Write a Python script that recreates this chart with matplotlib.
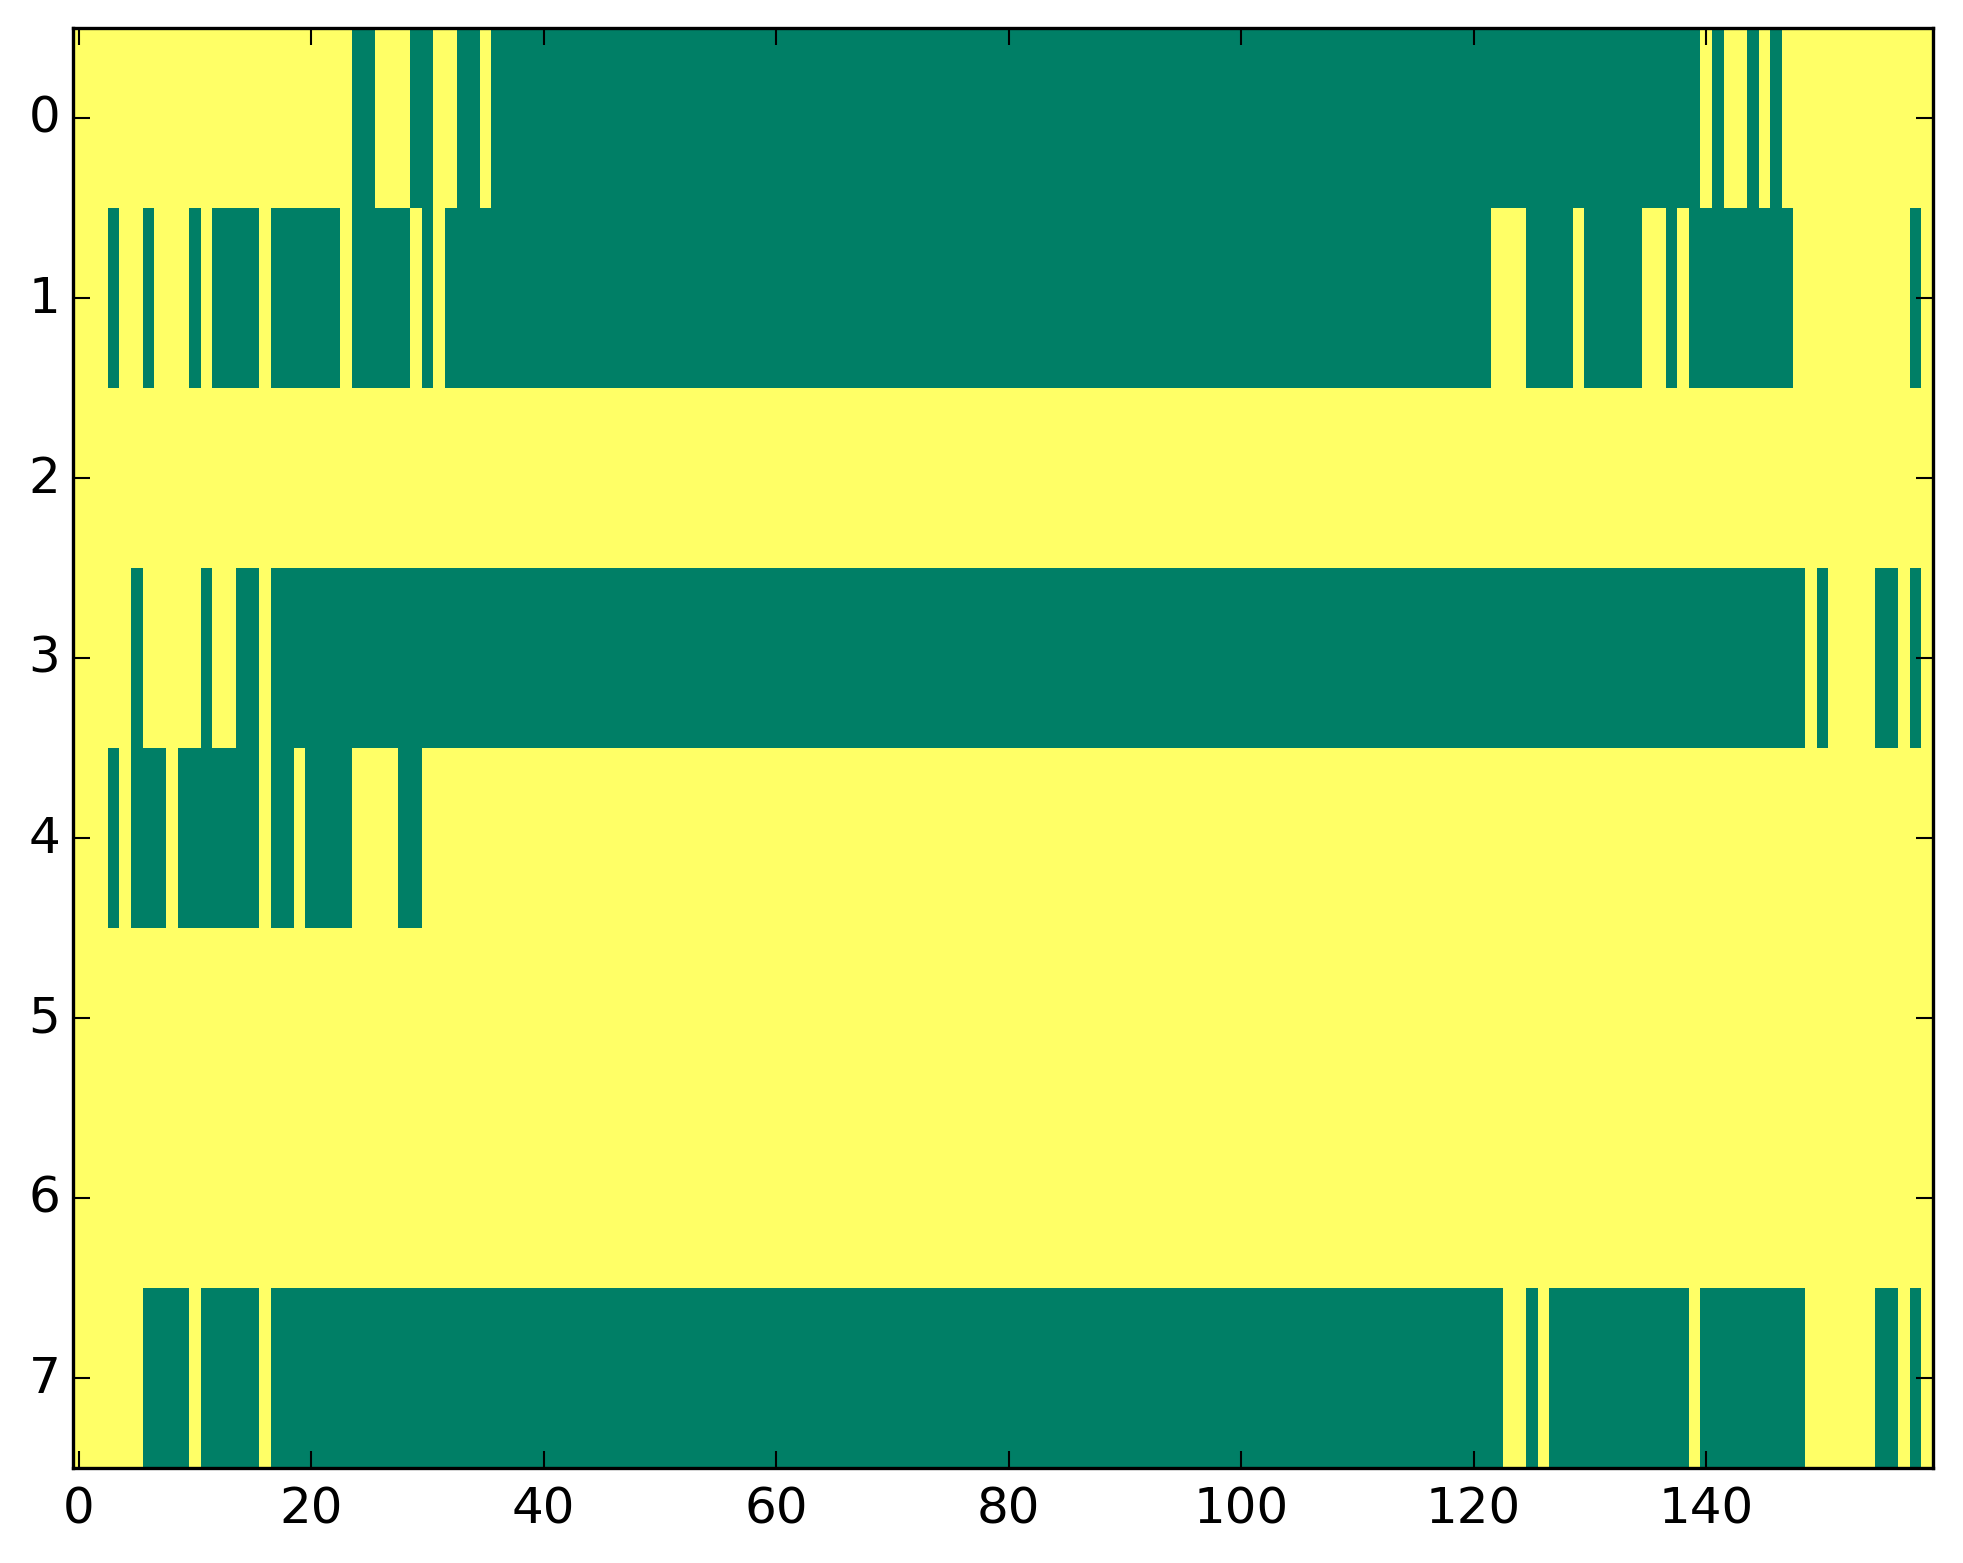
import numpy as np
import matplotlib
matplotlib.use('Agg')
import matplotlib.pyplot as plt

plt.style.use('classic')

n_rows = 8
n_cols = 160

# green (0) runs per row, inclusive column ranges; everything else is yellow (1)
row0_runs = [(24, 25), (29, 30), (33, 34), (36, 139), (141, 141), (144, 144), (146, 146)]
row1_runs = [(3, 3), (6, 6), (10, 10), (12, 15), (17, 22), (24, 28), (30, 30), (32, 121),
             (125, 128), (130, 134), (137, 137), (139, 147), (158, 158)]
row2_runs = []
row3_runs = [(5, 5), (11, 11), (14, 15), (17, 148), (150, 150), (155, 156), (158, 158)]
row4_runs = [(3, 3), (5, 7), (9, 15), (17, 18), (20, 23), (28, 29)]
row5_runs = []
row6_runs = []
row7_runs = [(6, 9), (11, 15), (17, 122), (125, 125), (127, 138), (140, 148), (155, 156), (158, 158)]

all_runs = [row0_runs, row1_runs, row2_runs, row3_runs,
            row4_runs, row5_runs, row6_runs, row7_runs]

data = np.ones((n_rows, n_cols))
for r, runs in enumerate(all_runs):
    for a, b in runs:
        data[r, a:b + 1] = 0

fig = plt.figure(figsize=(1963 / 300, 1564 / 300), dpi=300, facecolor='white')
ax = fig.add_axes([72.8 / 1963, (1564 - 1468.7) / 1564, 1860 / 1963, 1440 / 1564])
ax.imshow(data, cmap='summer', interpolation='nearest', aspect='auto', vmin=0, vmax=1)
ax.set_xticks(np.arange(0, 141, 20))
ax.set_yticks(np.arange(0, 8))
ax.set_xlim(-0.5, n_cols - 0.5)
ax.set_ylim(n_rows - 0.5, -0.5)
ax.tick_params(axis='y', pad=3)
for sp in ax.spines.values():
    sp.set_linewidth(0.8)

fig.savefig('out.png', dpi=300, facecolor='white')
